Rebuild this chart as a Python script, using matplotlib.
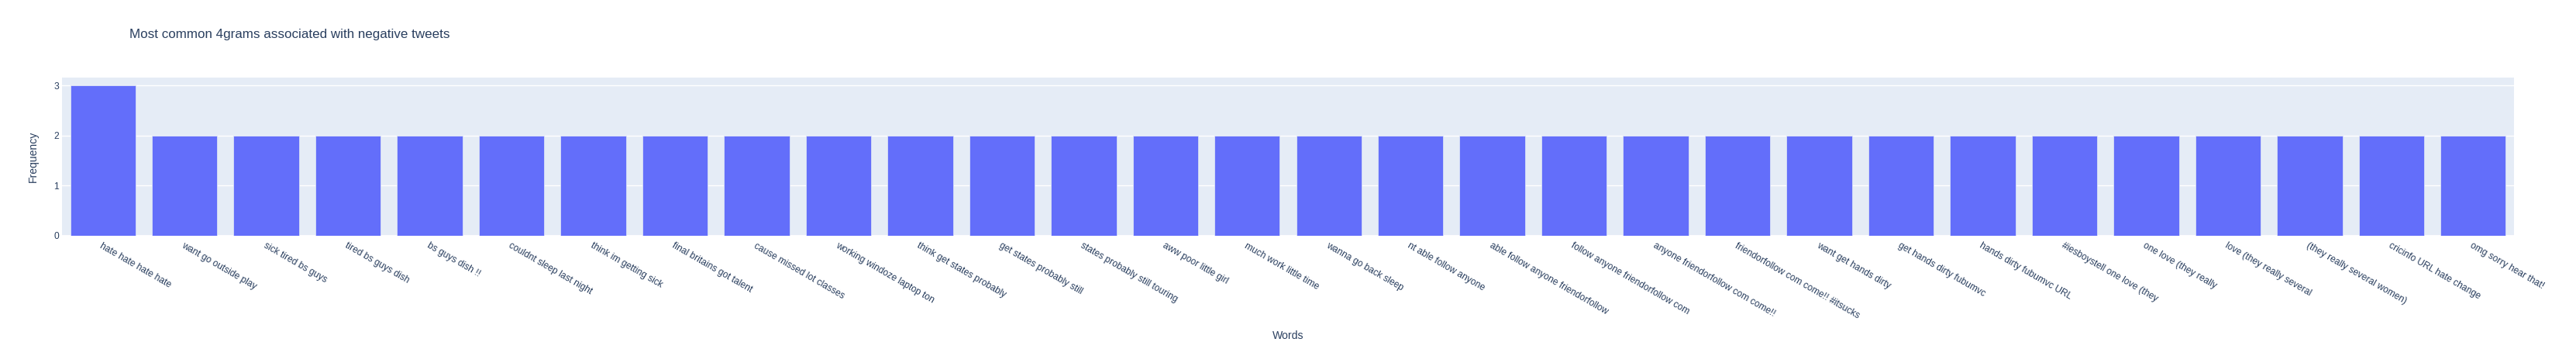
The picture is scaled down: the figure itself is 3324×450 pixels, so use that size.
import matplotlib.pyplot as plt

# n-grams and how often they show up in negative tweets
words = [
    "hate hate hate hate", "want go outside play", "sick tired bs guys",
    "tired bs guys dish", "bs guys dish !!", "couldnt sleep last night",
    "think im getting sick", "final britains got talent", "cause missed lot classes",
    "working windoze laptop ton", "think get states probably", "get states probably still",
    "states probably still touring", "aww poor little girl", "much work little time",
    "wanna go back sleep", "nt able follow anyone", "able follow anyone friendorfollow",
    "follow anyone friendorfollow com", "anyone friendorfollow com come!!",
    "friendorfollow com come!! #itsucks", "want get hands dirty", "get hands dirty fubumvc",
    "hands dirty fubumvc URL", "#iesboystell one love (they", "one love (they really",
    "love (they really several", "(they really several women)", "cricinfo URL hate change",
    "omg sorry hear that!",
]
counts = [3] + [2] * 29

text_color = "#2a3f5f"
plt.rcParams["font.family"] = ["Liberation Sans", "DejaVu Sans"]

W, H = 3324, 450
fig, ax = plt.subplots(figsize=(W / 100, H / 100), dpi=100)
fig.subplots_adjust(left=80 / W, right=3244 / W, top=1 - 100 / H, bottom=1 - 304 / H)

ax.set_facecolor("#e5ecf6")
x = range(len(words))
ax.bar(x, counts, width=0.8, color="#636efa", edgecolor="#e5ecf6", linewidth=0.5, zorder=3)

ax.set_xlim(-0.5, len(words) - 0.5)
ax.set_ylim(0, 3.157)
ax.set_yticks([0, 1, 2, 3])
ax.grid(axis="y", color="white", linewidth=1, zorder=0)
ax.axhline(0, color="white", linewidth=2, zorder=1)
for s in ax.spines.values():
    s.set_visible(False)

ax.set_xticks(list(x))
ax.set_xticklabels(words, rotation=-30, ha="left", va="top", rotation_mode="anchor")
ax.tick_params(axis="both", length=0, labelsize=8.64, labelcolor=text_color)
ax.tick_params(axis="x", pad=5)
ax.tick_params(axis="y", pad=3)

ax.set_ylabel("Frequency", fontsize=10.08, color=text_color, labelpad=14)
fig.text(1662 / W, 1 - 433 / H, "Words", ha="center", va="center", fontsize=10.08, color=text_color)
fig.text(167 / W, 1 - 45 / H, "Most common 4grams associated with negative tweets",
         ha="left", va="center", fontsize=12.24, color=text_color)

fig.savefig("out.png", dpi=100)
